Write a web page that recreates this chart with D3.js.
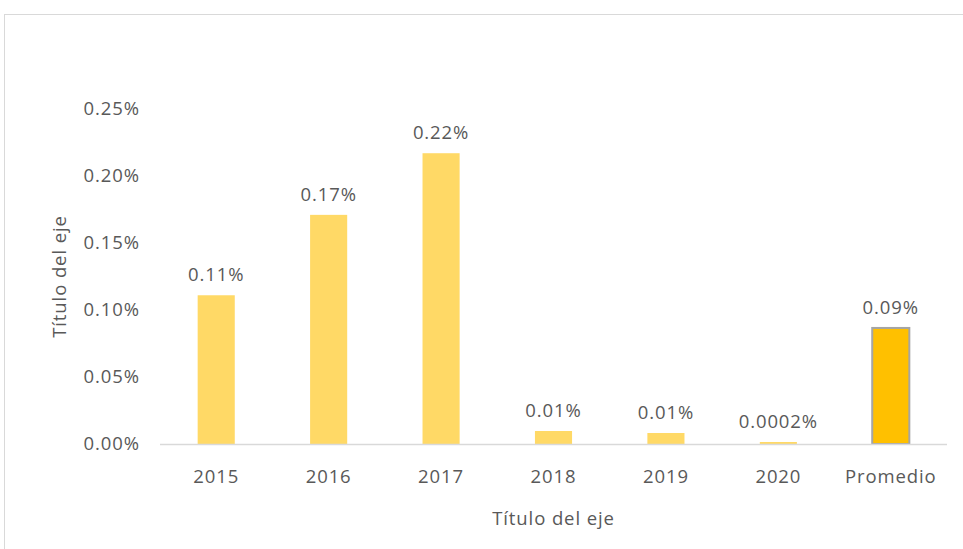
<!DOCTYPE html>
<html>
<head>
<meta charset="utf-8">
<script src="https://cdn.jsdelivr.net/npm/d3@7"></script>
<style>
  body { margin: 0; background: #fff; }
  text { font-family: "Open Sans", sans-serif; fill: #595959; }
</style>
</head>
<body>
<div id="chart"></div>
<script>
// data (values in %)
var categories = ['2015', '2016', '2017', '2018', '2019', '2020', 'Promedio'];
var values = [0.111, 0.171, 0.217, 0.0097, 0.0082, 0.0015, 0.0866];
var labels = ['0.11%', '0.17%', '0.22%', '0.01%', '0.01%', '0.0002%', '0.09%'];
var yTicks = [0, 0.05, 0.10, 0.15, 0.20, 0.25];

var width = 963, height = 549;
var margin = {left: 160, right: 16, top: 109, bottom: 105};
var fontSize = '18.5px', spacing = '0.9px';

var svg = d3.select('#chart').append('svg')
  .attr('width', width)
  .attr('height', height);

// chart frame
svg.append('rect')
  .attr('x', 4.5).attr('y', 14.5)
  .attr('width', width + 10).attr('height', height + 10)
  .attr('fill', 'none')
  .attr('stroke', '#d9d9d9');

var x = d3.scaleBand()
  .domain(categories)
  .range([margin.left, width - margin.right])
  .paddingInner(0.67)
  .paddingOuter(0.335);

var y = d3.scaleLinear()
  .domain([0, 0.25])
  .range([height - margin.bottom, margin.top]);

// y tick labels
var yAxis = d3.axisLeft(y)
  .tickValues(yTicks)
  .tickSize(0)
  .tickPadding(20)
  .tickFormat(function(d) { return d.toFixed(2) + '%'; });

var gy = svg.append('g')
  .attr('transform', 'translate(' + margin.left + ',0)')
  .call(yAxis);
gy.select('.domain').remove();
gy.selectAll('text')
  .style('font-size', fontSize)
  .style('letter-spacing', spacing)
  .attr('fill', '#595959');

// bars
svg.selectAll('rect.bar').data(values)
  .enter().append('rect')
  .attr('class', 'bar')
  .attr('x', function(d, i) { return x(categories[i]); })
  .attr('y', function(d) { return y(d); })
  .attr('width', x.bandwidth())
  .attr('height', function(d) { return y(0) - y(d); })
  .attr('fill', function(d, i) { return categories[i] === 'Promedio' ? '#ffc000' : '#ffd966'; })
  .attr('stroke', function(d, i) { return categories[i] === 'Promedio' ? '#a5a5a5' : 'none'; })
  .attr('stroke-width', 2);

// baseline
svg.append('line')
  .attr('x1', margin.left).attr('x2', width - margin.right)
  .attr('y1', y(0) + 0.5).attr('y2', y(0) + 0.5)
  .attr('stroke', '#d9d9d9')
  .attr('stroke-width', 1.5);

// value labels
svg.selectAll('text.lbl').data(values)
  .enter().append('text')
  .attr('class', 'lbl')
  .attr('x', function(d, i) { return x(categories[i]) + x.bandwidth() / 2; })
  .attr('y', function(d) { return y(d) - 14; })
  .attr('text-anchor', 'middle')
  .style('font-size', fontSize)
  .style('letter-spacing', spacing)
  .text(function(d, i) { return labels[i]; });

// category labels
var xAxis = d3.axisBottom(x).tickSize(0).tickPadding(26);
var gx = svg.append('g')
  .attr('transform', 'translate(0,' + y(0) + ')')
  .call(xAxis);
gx.select('.domain').remove();
gx.selectAll('text')
  .style('font-size', fontSize)
  .style('letter-spacing', spacing)
  .attr('fill', '#595959');

// axis titles
svg.append('text')
  .attr('x', (margin.left + width - margin.right) / 2)
  .attr('y', 525)
  .attr('text-anchor', 'middle')
  .style('font-size', fontSize)
  .style('letter-spacing', spacing)
  .text('Título del eje');

svg.append('text')
  .attr('transform', 'translate(66,' + (y(0.125)) + ') rotate(-90)')
  .attr('text-anchor', 'middle')
  .style('font-size', fontSize)
  .style('letter-spacing', spacing)
  .text('Título del eje');
</script>
</body>
</html>
